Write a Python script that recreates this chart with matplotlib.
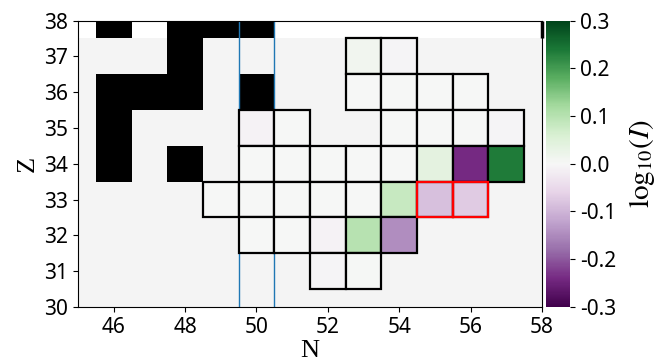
import matplotlib
matplotlib.use("Agg")
import matplotlib.pyplot as plt
import numpy as np
from matplotlib.patches import Rectangle
from matplotlib.colors import Normalize
import matplotlib.cm as cm

plt.rcParams['font.family'] = ['Noto Sans', 'DejaVu Sans']
plt.rcParams['axes.unicode_minus'] = False
plt.rcParams['mathtext.fontset'] = 'stix'

# ---- data ----
# measured cells: N, Z, log10(I)
cell_N = [53, 54,
          53, 54, 55, 56,
          50, 51, 54, 55, 56, 57,
          50, 51, 52, 53, 54, 55, 56, 57,
          49, 50, 51, 52, 53, 54, 55, 56,
          50, 51, 52, 53, 54,
          52, 53]
cell_Z = [37, 37,
          36, 36, 36, 36,
          35, 35, 35, 35, 35, 35,
          34, 34, 34, 34, 34, 34, 34, 34,
          33, 33, 33, 33, 33, 33, 33, 33,
          32, 32, 32, 32, 32,
          31, 31]
cell_val = [0.012, -0.005,
            0.0, 0.0, 0.0, 0.0,
            -0.008, 0.0, 0.0, 0.0, 0.0, -0.005,
            0.0, 0.0, 0.0, 0.0, 0.0, 0.038, -0.24, 0.235,
            0.0, 0.0, 0.0, 0.0, 0.0, 0.08, -0.086, -0.072,
            0.0, 0.0, -0.008, 0.10, -0.147,
            -0.006, 0.004]
# cells highlighted in red
red_N = [55, 56]
red_Z = [33, 33]

# black (unbound / excluded) cells
black_N = [46, 48, 49, 50, 48, 46, 47, 48, 50, 46, 46, 48]
black_Z = [38, 38, 38, 38, 37, 36, 36, 36, 36, 35, 34, 34]

# grey background region (cell centres)
bg_N = np.arange(45, 59)
bg_Z = np.arange(30, 38)

# vertical reference lines (N)
vline_N = [49.5, 50.5]
# edge marker at top right
edge_N = [58]
edge_Z = (37.5, 38)

x_ticks = [46, 48, 50, 52, 54, 56, 58]
y_ticks = [30, 31, 32, 33, 34, 35, 36, 37, 38]
cb_ticks = [-0.3, -0.2, -0.1, 0.0, 0.1, 0.2, 0.3]
vmin, vmax = -0.3, 0.3

# ---- figure ----
fig = plt.figure(figsize=(6.7, 3.63), dpi=100)
ax = fig.add_axes([0.1164, 0.1543, 0.6925, 0.7892])
cax = fig.add_axes([0.8145, 0.1543, 0.0363, 0.7892])

cmap = plt.get_cmap('PRGn')
norm = Normalize(vmin=vmin, vmax=vmax)

# background grey grid
Nedges = np.append(bg_N - 0.5, bg_N[-1] + 0.5)
Zedges = np.append(bg_Z - 0.5, bg_Z[-1] + 0.5)
bg = np.zeros((len(bg_Z), len(bg_N)))
ax.pcolormesh(Nedges, Zedges, bg, cmap=matplotlib.colors.ListedColormap(['#f4f4f4']),
              shading='flat', zorder=0)

for n, z in zip(black_N, black_Z):
    ax.add_patch(Rectangle((n - 0.5, z - 0.5), 1, 1, facecolor='black',
                           edgecolor='none', zorder=1))

for x in vline_N:
    ax.axvline(x, color='#1f77b4', lw=1.0, zorder=2)

for n, z, v in zip(cell_N, cell_Z, cell_val):
    ax.add_patch(Rectangle((n - 0.5, z - 0.5), 1, 1, facecolor=cmap(norm(v)),
                           edgecolor='black', lw=1.6, zorder=3))

for n, z in zip(red_N, red_Z):
    ax.add_patch(Rectangle((n - 0.5, z - 0.5), 1, 1, facecolor='none',
                           edgecolor='red', lw=1.6, zorder=4))

ax.vlines(edge_N, edge_Z[0], edge_Z[1], color='black', lw=2.5, zorder=5, clip_on=False)

ax.set_xlim(45, 58)
ax.set_ylim(30, 38)
ax.set_xticks(x_ticks)
ax.set_yticks(y_ticks)
ax.tick_params(labelsize=15)
ax.set_xlabel('N', family='Liberation Serif', fontsize=19, labelpad=2)
ax.set_ylabel('Z', family='Liberation Serif', fontsize=19, labelpad=4)

sm = cm.ScalarMappable(norm=norm, cmap=cmap)
cb = fig.colorbar(sm, cax=cax, ticks=cb_ticks)
cb.ax.set_yticklabels(['%.1f' % t for t in cb_ticks])
cb.ax.tick_params(labelsize=15)
cb.outline.set_visible(False)
cb.set_label(r'$\mathrm{log}_{10}(I)$', fontsize=21, labelpad=8)

fig.savefig('out.png', dpi=100)
